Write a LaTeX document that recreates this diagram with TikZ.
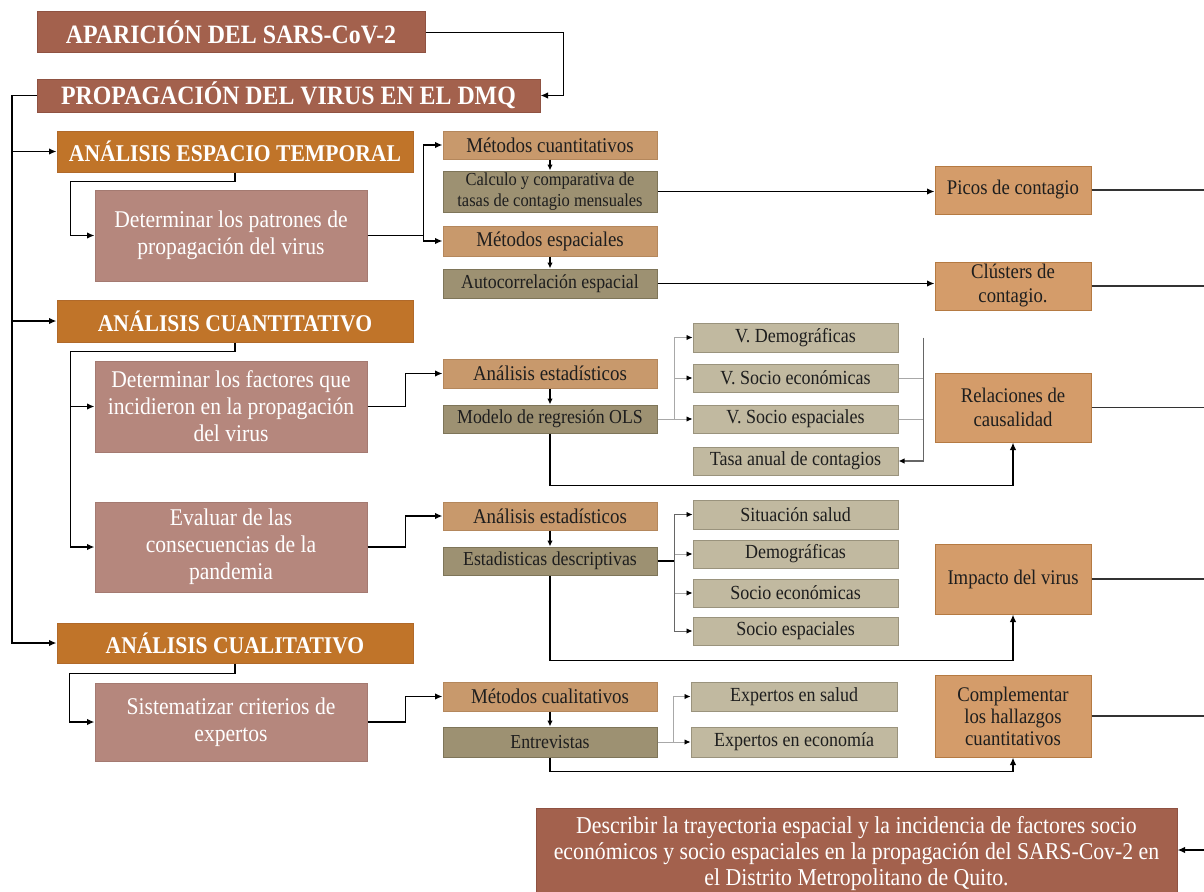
\documentclass[tikz,border=0pt]{standalone}
\usepackage{fontspec}
\setmainfont{Liberation Serif}[FakeStretch=0.9]
\usetikzlibrary{arrows.meta,calc}
\definecolor{cTitle}{HTML}{A3614D}
\definecolor{cTitleD}{HTML}{8F5242}
\definecolor{cAna}{HTML}{C07429}
\definecolor{cAnaD}{HTML}{B0692A}
\definecolor{cObj}{HTML}{B5877D}
\definecolor{cObjD}{HTML}{A47A71}
\definecolor{cMet}{HTML}{C8996C}
\definecolor{cMetD}{HTML}{B4875C}
\definecolor{cTec}{HTML}{9D9172}
\definecolor{cTecD}{HTML}{7E7559}
\definecolor{cVar}{HTML}{C1B9A0}
\definecolor{cVarD}{HTML}{9A937D}
\definecolor{cRes}{HTML}{D49C6A}
\definecolor{cResD}{HTML}{B57A42}
\definecolor{cTxt}{HTML}{1E1E1E}
\definecolor{cGray}{HTML}{A8A8A8}
\tikzset{
  sz/.style 2 args={minimum width=#1pt, minimum height=#2pt},
  box/.style={rectangle, inner sep=0pt, align=center, line width=1pt},
  ttl/.style={box, fill=cTitle, draw=cTitleD, text=white, font=\fontsize{26.5}{30}\selectfont\bfseries},
  ana/.style={box, fill=cAna, draw=cAnaD, text=white, font=\fontsize{24}{27}\selectfont\bfseries},
  obj/.style={box, fill=cObj, draw=cObjD, text=white, font=\fontsize{24}{27}\selectfont},
  met/.style={box, fill=cMet, draw=cMetD, text=cTxt, font=\fontsize{21}{23}\selectfont},
  tec/.style={box, fill=cTec, draw=cTecD, text=cTxt, font=\fontsize{19.8}{22}\selectfont},
  var/.style={box, fill=cVar, draw=cVarD, text=cTxt, font=\fontsize{20}{22}\selectfont},
  res/.style={box, fill=cRes, draw=cResD, text=cTxt, font=\fontsize{20.8}{24}\selectfont},
  conn/.style={line width=1.6pt, draw=black},
  arr/.style={conn, -{Latex[length=7.5pt,width=6.5pt]}},
  sarr/.style={conn, -{Latex[length=6pt,width=5.5pt]}},
  gline/.style={line width=0.9pt, draw=cGray},
  garr/.style={gline, -{Latex[length=6pt,width=5.5pt,black]}},
  outl/.style={line width=1.9pt, draw=black!80},
}
\begin{document}
\begin{tikzpicture}[x=1pt,y=-1pt]
\useasboundingbox (0,0) rectangle (1204,891);
% title boxes
\node[ttl, sz={388}{41}] (apar) at (231,32.5) {APARICIÓN DEL SARS-CoV-2};
\node[ttl, sz={503}{33}] (prop) at (288.5,95.5) {PROPAGACIÓN DEL VIRUS EN EL DMQ};
% espacio temporal
\node[ana, sz={356}{41}] (aet) at (235,151.5) {ANÁLISIS ESPACIO TEMPORAL};
\node[obj, sz={272}{91}] (det1) at (231,235.5) {Determinar los patrones de\\propagación del virus};
\node[met, sz={214}{28}] (mc1) at (550,145) {Métodos cuantitativos};
\node[tec, sz={214}{41}, font=\fontsize{18.3}{20.5}\selectfont] (calc) at (550,191.5) {Calculo y comparativa de\\tasas de contagio mensuales};
\node[met, sz={214}{30}] (me1) at (550,241) {Métodos espaciales};
\node[tec, sz={214}{29}] (auto) at (550,283.5) {Autocorrelación espacial};
\node[res, sz={156}{48}] (picos) at (1013,190) {Picos de contagio};
\node[res, sz={156}{48}] (clus) at (1013,286) {Clústers de\\contagio.};
% cuantitativo
\node[ana, sz={356}{42}] (acu) at (235,321) {ANÁLISIS CUANTITATIVO};
\node[obj, sz={272}{91}] (det2) at (231,406.5) {Determinar los factores que\\incidieron en la propagación\\del virus};
\node[met, sz={214}{29}] (ae1) at (550,373.5) {Análisis estadísticos};
\node[tec, sz={214}{28}] (ols) at (550,419) {Modelo de regresión OLS};
\node[var, sz={205}{29}] (vd) at (795.5,337.5) {V. Demográficas};
\node[var, sz={205}{28}] (vse) at (795.5,378) {V. Socio económicas};
\node[var, sz={205}{28}] (vsp) at (795.5,419) {V. Socio espaciales};
\node[var, sz={205}{28}] (tasa) at (795.5,461) {Tasa anual de contagios};
\node[res, sz={156}{69}] (rel) at (1013,407.5) {Relaciones de\\causalidad};
\node[obj, sz={272}{90}] (det3) at (231,547) {Evaluar de las\\consecuencias de la\\pandemia};
\node[met, sz={214}{28}] (ae2) at (550,516) {Análisis estadísticos};
\node[tec, sz={214}{28}] (ed) at (550,561) {Estadisticas descriptivas};
\node[var, sz={205}{29}] (ss) at (795.5,514.5) {Situación salud};
\node[var, sz={205}{28}] (dem) at (795.5,554) {Demográficas};
\node[var, sz={205}{28}] (sec) at (795.5,593) {Socio económicas};
\node[var, sz={205}{28}] (sesp) at (795.5,631) {Socio espaciales};
\node[res, sz={156}{70}] (imp) at (1013,579) {Impacto del virus};
% cualitativo
\node[ana, sz={356}{40}] (acl) at (235,643) {ANÁLISIS CUALITATIVO};
\node[obj, sz={272}{78}] (sis) at (231,722) {Sistematizar criterios de\\expertos};
\node[met, sz={214}{29}] (mcl) at (550,696.5) {Métodos cualitativos};
\node[tec, sz={214}{30}] (ent) at (550,742) {Entrevistas};
\node[var, sz={206}{29}] (es) at (794,696.5) {Expertos en salud};
\node[var, sz={206}{30}] (ee) at (794,742) {Expertos en economía};
\node[res, sz={156}{82}, font=\fontsize{20.8}{22}\selectfont] (comp) at (1013,716) {Complementar\\los hallazgos\\cuantitativos};
% final
\node[ttl, sz={641}{91}, font=\fontsize{24.2}{26}\selectfont] (fin) at (856.5,853.5) {Describir la trayectoria espacial y la incidencia de factores socio\\económicos y socio espaciales en la propagación del SARS-Cov-2 en\\el Distrito Metropolitano de Quito.};
% coordinates
\coordinate (tk) at (12,95.5);
\coordinate (edge) at (1204,0);
\coordinate (ein) at (1204,850);
% connectors top
\draw[arr] (apar.east) -- ++(138,0) |- (prop.east);
\draw[arr] (prop.west) -- (tk) |- (acl.west);
\draw[arr] (tk |- aet.west) -- (aet.west);
\draw[arr] (tk |- acu.west) -- (acu.west);
% analysis -> objectives
\draw[arr] (aet.south) -- ++(0,9) -| ([xshift=-24pt]det1.west) -- (det1.west);
\draw[arr] (acu.south) -- ++(0,9) -| ([xshift=-24pt]det3.west) -- (det3.west);
\draw[arr] ([xshift=-24pt]det2.west) -- (det2.west);
\draw[arr] (acl.south) -- ++(0,10) -| ([xshift=-25pt]sis.west) -- (sis.west);
% objectives -> methods
\draw[arr] (det1.east) -- ++(56,0) coordinate (b1) |- (mc1.west);
\draw[arr] (b1) |- (me1.west);
\draw[arr] (det2.east) -- ++(38,0) |- (ae1.west);
\draw[arr] (det3.east) -- ++(38,0) |- (ae2.west);
\draw[arr] (sis.east) -- ++(38,0) |- (mcl.west);
% methods -> techniques
\draw[sarr] (mc1.south) -- (calc.north);
\draw[sarr] (me1.south) -- (auto.north);
\draw[sarr] (ae1.south) -- (ols.north);
\draw[sarr] (ae2.south) -- (ed.north);
\draw[sarr] (mcl.south) -- (ent.north);
% techniques -> results
\draw[arr] (calc.east) -- (calc.east -| picos.west);
\draw[arr] (auto.east) -- (auto.east -| clus.west);
\draw[arr] (ols.south) -- ++(0,52) -| (rel.south);
\draw[arr] (ed.south) -- ++(0,85) -| (imp.south);
\draw[arr] (ent.south) -- ++(0,14) -| (comp.south);
% OLS branches
\draw[gline] (ols.east) -- ++(17,0) coordinate (b2);
\draw[garr] (b2) |- (vd.west);
\draw[garr] (b2 |- vse.west) -- (vse.west);
\draw[garr] (b2) -- (vsp.west);
\coordinate (r1) at ([xshift=25pt]vd.east);
\draw[gline] (vse.east) -- (vse.east -| r1);
\draw[gline] (vsp.east) -- (vsp.east -| r1);
\draw[line width=1.1pt, draw=black!60, -{Latex[length=6pt,width=5.5pt,black]}] (r1) |- (tasa.east);
% descriptive branches
\draw[conn, line width=1.3pt] (ed.east) -- ++(17,0) coordinate (b3);
\draw[garr, draw=black!60] (b3) |- (ss.west);
\draw[garr, draw=black!60] (b3) |- (sesp.west);
\draw[garr] (b3 |- dem.west) -- (dem.west);
\draw[garr] (b3 |- sec.west) -- (sec.west);
% interview branches
\draw[gline] (ent.east) -- ++(16,0) coordinate (b4);
\draw[garr] (b4) |- (es.west);
\draw[garr] (b4) -- (ee.west);
% outputs to right edge
\draw[outl] (picos.east) -- (picos.east -| edge);
\draw[outl] (clus.east) -- (clus.east -| edge);
\draw[outl] (rel.east) -- (rel.east -| edge);
\draw[outl] (imp.east) -- (imp.east -| edge);
\draw[outl] (comp.east) -- (comp.east -| edge);
\draw[arr] (ein) -- (ein -| fin.east);
\end{tikzpicture}
\end{document}
